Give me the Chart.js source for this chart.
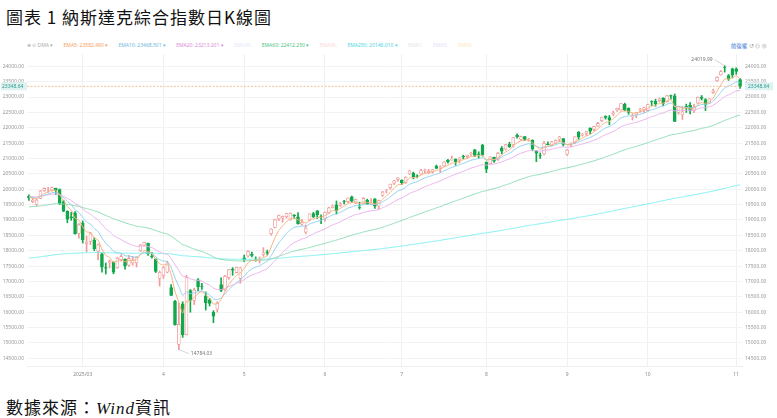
<!DOCTYPE html>
<html>
<head>
<meta charset="utf-8">
<script src="https://cdn.jsdelivr.net/npm/chart.js@4"></script>
<style>
body { margin:0; width:777px; height:418px; background:#fff; position:relative; overflow:hidden; font-family:"Noto Sans CJK TC", sans-serif; }
#title { position:absolute; left:6px; top:4px; font-size:17px; color:#111; letter-spacing:1px; }
#src { position:absolute; left:6px; top:394px; font-size:17px; color:#111; letter-spacing:1px; }
#src i { font-family:"Liberation Serif", serif; }
#legend { position:absolute; left:27px; top:42px; font-size:5px; color:#999; white-space:nowrap; font-family:"Noto Sans", sans-serif; }
#legend span { margin-right:9px; }
#tools { position:absolute; right:10px; top:42px; font-size:5.5px; color:#3a7bd5; font-family:"Noto Sans CJK TC", sans-serif; }
#wrap { position:absolute; left:0; top:48px; width:777px; height:336px; }
</style>
</head>
<body>
<div id="title">圖表 1 納斯達克綜合指數日K線圖</div>
<div id="legend">
<span style="color:#aaa">⊕ ⊙ DMA ▾</span>
<span style="color:#f5a25d">EMA5: 23582.490 ▾</span>
<span style="color:#6cb8e0">EMA10: 23468.501 ▾</span>
<span style="color:#d98ad9">EMA20: 23213.201 ▾</span>
<span style="color:#dde8f8">EMA30:</span>
<span style="color:#4fbf84">EMA60: 22412.250 ▾</span>
<span style="color:#fbd7d7">EMA90:</span>
<span style="color:#4fd6e0">EMA250: 20146.010 ▾</span>
<span style="color:#e6e6e6">EMA1:</span>
<span style="color:#e6ddf6">EMA5:</span>
<span style="color:#fbe6c8">EMA5:</span>
</div>
<div id="tools">前復權 <span style="color:#999">↺ ⊖ ⊕</span></div>
<div id="wrap"><canvas id="kline"></canvas></div>
<div id="src">數據來源：<i>Wind</i>資訊</div>
<script>
const dates = ['02-10','02-11','02-12','02-13','02-14','02-18','02-19','02-20','02-21','02-24','02-25','02-26','02-27','02-28',
'03-03','03-04','03-05','03-06','03-07','03-10','03-11','03-12','03-13','03-14','03-17','03-18','03-19','03-20','03-21','03-24','03-25','03-26','03-27','03-28','03-31',
'04-01','04-02','04-03','04-04','04-07','04-08','04-09','04-10','04-11','04-14','04-15','04-16','04-17','04-21','04-22','04-23','04-24','04-25','04-28','04-29','04-30',
'05-01','05-02','05-05','05-06','05-07','05-08','05-09','05-12','05-13','05-14','05-15','05-16','05-19','05-20','05-21','05-22','05-23','05-27','05-28','05-29','05-30',
'06-02','06-03','06-04','06-05','06-06','06-09','06-10','06-11','06-12','06-13','06-16','06-17','06-18','06-20','06-23','06-24','06-25','06-26','06-27','06-30',
'07-01','07-02','07-03','07-07','07-08','07-09','07-10','07-11','07-14','07-15','07-16','07-17','07-18','07-21','07-22','07-23','07-24','07-25','07-28','07-29','07-30','07-31',
'08-01','08-04','08-05','08-06','08-07','08-08','08-11','08-12','08-13','08-14','08-15','08-18','08-19','08-20','08-21','08-22','08-25','08-26','08-27','08-28','08-29',
'09-02','09-03','09-04','09-05','09-08','09-09','09-10','09-11','09-12','09-15','09-16','09-17','09-18','09-19','09-22','09-23','09-24','09-25','09-26','09-29','09-30',
'10-01','10-02','10-03','10-06','10-07','10-08','10-09','10-10','10-13','10-14','10-15','10-16','10-17','10-20','10-21','10-22','10-23','10-24','10-27','10-28','10-29','10-30','10-31',
'11-03','11-04'];

// [open, high, low, close]
const ohlc = [
[19780,19820,19640,19714],[19600,19700,19560,19643],[19500,19680,19450,19650],[19700,19960,19690,19945],[19950,20045,19930,20026],
[20040,20060,19900,20041],[19980,20070,19940,20056],[20030,20040,19820,19962],[19990,20010,19500,19524],[19600,19640,19270,19286],
[19280,19300,18910,19026],[19100,19250,18990,19075],[19230,19270,18540,18544],[18560,18880,18410,18847],
[18900,18970,18250,18350],[18230,18480,17970,18285],[18300,18600,18200,18553],[18350,18420,18000,18069],[17980,18220,17700,18196],
[17900,17930,17300,17468],[17450,17600,17240,17436],[17600,17700,17440,17648],[17630,17640,17250,17303],[17450,17780,17430,17754],
[17700,17870,17660,17808],[17730,17740,17400,17504],[17530,17850,17490,17750],[17600,17820,17530,17691],[17600,17800,17470,17784],
[18000,18200,17980,18188],[18180,18280,18150,18271],[18240,18250,17850,17899],[17830,17950,17760,17804],[17730,17740,17290,17323],
[17100,17340,16850,17299],
[17200,17480,17100,17449],[17300,17660,17280,17601],[16800,16900,16540,16550],[16350,16390,15580,15588],[14950,16300,14784.03,15603],
[16270,16340,15180,15268],[15270,17200,15260,17125],[16700,16740,16000,16387],[16380,16780,16250,16724],[17050,17090,16700,16831],
[16830,16940,16740,16824],[16530,16660,16070,16307],[16400,16450,16200,16287],[16000,16050,15660,15870],[16100,16340,16000,16300],
[16900,17120,16670,16708],[16720,17200,16700,17166],[17130,17390,17070,17383],[17400,17450,17200,17366],[17290,17470,17280,17461],
[17100,17460,16940,17446],
[17770,17860,17640,17710],[17830,18000,17800,17978],[17880,17960,17800,17844],[17700,17800,17660,17690],[17720,17800,17600,17738],
[17880,18100,17820,17929],[17960,18020,17860,17928],[18550,18720,18510,18708],[18760,19020,18740,19010],[19030,19160,18980,19146],
[19060,19130,18930,19112],[19110,19220,19060,19211],[19000,19230,18990,19215],[19160,19180,19050,19143],[19100,19240,18860,18872],
[18860,19020,18830,18925],[18600,18840,18550,18737],[19000,19200,18970,19199],[19210,19250,19080,19100],[19300,19310,19050,19175],
[19120,19170,18880,19113],
[19060,19260,18960,19243],[19230,19420,19210,19398],[19400,19490,19390,19460],[19490,19620,19200,19298],[19470,19570,19440,19530],
[19600,19640,19520,19591],[19600,19720,19560,19715],[19750,19780,19580,19615],[19550,19680,19530,19662],[19420,19580,19350,19406],
[19540,19730,19520,19701],[19640,19680,19500,19521],[19530,19700,19500,19546],[19690,19700,19380,19447],[19450,19650,19340,19631],
[19800,19930,19770,19913],[19960,19990,19880,19973],[20050,20170,20000,20168],[20200,20290,20150,20273],[20320,20380,20260,20370],
[20300,20310,20150,20202],[20210,20400,20190,20393],[20500,20620,20480,20601],[20520,20560,20340,20412],[20440,20470,20370,20418],
[20500,20650,20480,20611],[20610,20660,20520,20630],[20530,20650,20510,20586],[20580,20650,20520,20640],[20750,20790,20670,20677],
[20710,20760,20550,20730],[20760,20900,20740,20885],[20940,20970,20850,20896],[20950,21080,20950,20974],[20980,20990,20780,20892],
[20950,21030,20850,21020],[21070,21110,20990,21057],[21070,21110,21020,21108],[21150,21200,21100,21178],[21280,21300,21060,21098],
[21150,21220,21010,21130],[21440,21460,21080,21122],
[20880,20890,20540,20650],[20830,21060,20820,21053],[21040,21050,20870,20916],[20970,21200,20940,21169],[21340,21390,21150,21242],
[21300,21460,21280,21450],[21460,21530,21360,21385],[21450,21690,21370,21681],[21760,21800,21660,21713],[21620,21730,21590,21710],
[21710,21720,21580,21622],[21600,21660,21560,21630],[21600,21610,21250,21315],[21240,21260,20900,21172],[21110,21180,21000,21100],
[21150,21560,21120,21496],[21470,21540,21440,21449],[21420,21560,21400,21544],[21500,21610,21480,21590],[21630,21720,21540,21705],
[21650,21650,21410,21456],
[21140,21300,21100,21280],[21450,21510,21380,21498],[21520,21710,21480,21707],[21850,21880,21620,21700],[21760,21820,21730,21798],
[21820,21880,21750,21879],[21990,22000,21800,21886],[21950,22050,21900,22043],[22060,22180,22040,22141],[22230,22350,22200,22349],
[22380,22390,22280,22333],[22330,22400,22100,22261],[22440,22540,22400,22470],[22580,22640,22530,22631],[22580,22790,22570,22788],
[22760,22800,22550,22573],[22630,22650,22440,22497],[22360,22460,22250,22384],[22420,22500,22330,22484],[22580,22630,22510,22591],
[22590,22670,22500,22660],
[22560,22770,22550,22755],[22850,22880,22720,22845],[22860,22930,22700,22781],[22880,22970,22850,22941],[22970,22980,22720,22789],
[22850,23050,22830,23044],[23050,23060,22930,23025],[23040,23100,22200,22204],[22500,22700,22440,22695],[22420,22690,22270,22521],
[22700,22770,22500,22670],[22730,22820,22450,22562],[22550,22760,22490,22680],[22800,23000,22790,22991],[23000,23050,22900,22954],
[22920,22950,22560,22740],[22800,22950,22790,22941],[23150,23260,23120,23205],[23530,23660,23510,23637],[23720,23860,23710,23827],
[23960,24019.99,23810,23958],[23700,23730,23540,23581],[23920,23940,23620,23725],
[23920,23950,23740,23834],[23570,23600,23280,23348.64]
];

const yTicks = [14500,15000,15500,16000,16500,17000,17500,18000,18500,19000,19500,20000,20500,21000,21500,22000,22500,23000,23500,24000];
const lastPrice = 23348.64;
const highMark = { date: '10-29', value: 24019.99 };
const lowMark = { date: '04-07', value: 14784.03 };

// EMA settings: period, seed value before the first day, colour
const emaDefs = [
    { period: 5, seed: 19760, color: '#f7b27a' },
    { period: 10, seed: 19760, color: '#8fd0ef' },
    { period: 20, seed: 19780, color: '#eab0ea' },
    { period: 60, seed: 19420, color: '#8fdcb5' },
    { period: 250, seed: 17740, color: '#7ff0f0' }
];

function ema(closes, period, seed) {
    const k = 2 / (period + 1);
    let prev = seed;
    return closes.map(c => (prev = c * k + prev * (1 - k)));
}

const closes = ohlc.map(r => r[3]);
const upColor = '#f29b9b';
const downColor = '#11a84a';
const isUp = ohlc.map(r => r[3] >= r[0]);

const monthStarts = [];
dates.forEach((d, i) => {
    if (i > 0 && d.slice(0, 2) !== dates[i - 1].slice(0, 2)) monthStarts.push(i);
});

const datasets = [
    {
        type: 'bar',
        data: ohlc.map(r => [r[2], r[1]]),
        backgroundColor: isUp.map(u => u ? upColor : downColor),
        barThickness: 1,
        grouped: false,
        order: 3
    },
    {
        type: 'bar',
        data: ohlc.map(r => r[0] === r[3] ? [r[0] - 5, r[3] + 5] : [r[0], r[3]]),
        backgroundColor: isUp.map(u => u ? '#ffffff' : downColor),
        borderColor: isUp.map(u => u ? upColor : downColor),
        borderWidth: 0.8,
        borderSkipped: false,
        barThickness: 3,
        grouped: false,
        order: 2
    }
];
emaDefs.forEach(e => {
    datasets.push({
        type: 'line',
        data: ema(closes, e.period, e.seed),
        borderColor: e.color,
        borderWidth: 1,
        pointRadius: 0,
        tension: 0.2,
        order: 1
    });
});

const markers = {
    id: 'markers',
    afterDatasetsDraw(chart) {
        const { ctx, chartArea, scales } = chart;
        const y = scales.y.getPixelForValue(lastPrice);
        ctx.save();
        ctx.strokeStyle = '#f5b07a';
        ctx.lineWidth = 0.8;
        ctx.setLineDash([2, 1.5]);
        ctx.beginPath();
        ctx.moveTo(chartArea.left, y);
        ctx.lineTo(chartArea.right, y);
        ctx.stroke();
        ctx.setLineDash([]);
        ctx.font = '5px "Noto Sans"';
        ctx.textBaseline = 'middle';
        const txt = lastPrice.toFixed(2);
        ctx.fillStyle = '#dff2f2';
        ctx.fillRect(chartArea.left - 26, y - 4, 26, 8);
        ctx.fillRect(chartArea.right + 3, y - 4, 28, 8);
        ctx.fillStyle = '#2e9a8e';
        ctx.textAlign = 'left';
        ctx.fillText(txt, chartArea.left - 25, y);
        ctx.fillText(txt, chartArea.right + 6, y);

        ctx.fillStyle = '#777';
        ctx.strokeStyle = '#bbb';
        ctx.lineWidth = 0.6;
        const hx = scales.x.getPixelForValue(dates.indexOf(highMark.date));
        const hy = scales.y.getPixelForValue(highMark.value);
        ctx.beginPath(); ctx.moveTo(hx, hy); ctx.lineTo(hx - 10, hy - 6); ctx.stroke();
        ctx.textAlign = 'right';
        ctx.fillText(highMark.value.toFixed(2), hx - 12, hy - 6);
        const lx = scales.x.getPixelForValue(dates.indexOf(lowMark.date));
        const ly = scales.y.getPixelForValue(lowMark.value);
        ctx.beginPath(); ctx.moveTo(lx, ly); ctx.lineTo(lx + 10, ly + 4); ctx.stroke();
        ctx.textAlign = 'left';
        ctx.fillText(lowMark.value.toFixed(2), lx + 12, ly + 4);
        ctx.restore();
    }
};

const yAxis = (position, width) => ({
    position: position,
    min: 14250,
    max: 24400,
    afterBuildTicks: s => { s.ticks = yTicks.map(v => ({ value: v })); },
    afterFit: s => { s.width = width; },
    grid: { display: position === 'left', color: '#f1f3f5', drawTicks: false },
    border: { display: false },
    ticks: { color: '#999', font: { size: 5, family: 'Noto Sans' }, padding: 3, callback: v => v.toFixed(2) }
});

new Chart(document.getElementById('kline'), {
    data: { labels: dates, datasets: datasets },
    plugins: [markers],
    options: {
        responsive: true,
        maintainAspectRatio: false,
        animation: false,
        layout: { padding: { top: 4, bottom: 0 } },
        plugins: { legend: { display: false }, tooltip: { enabled: false } },
        scales: {
            x: {
                offset: true,
                afterBuildTicks: s => { s.ticks = monthStarts.map(v => ({ value: v })); },
                afterFit: s => { s.height = 18; },
                grid: { offset: false, color: '#eef0f2', drawTicks: false },
                border: { color: '#eee' },
                ticks: {
                    color: '#888', font: { size: 5, family: 'Noto Sans' }, padding: 6, maxRotation: 0, autoSkip: false,
                    callback: function (v) {
                        const m = parseInt(dates[v].slice(0, 2), 10);
                        return m === 3 ? '2025/03' : String(m);
                    }
                }
            },
            y: yAxis('left', 27),
            y2: yAxis('right', 35)
        }
    }
});
</script>
</body>
</html>
